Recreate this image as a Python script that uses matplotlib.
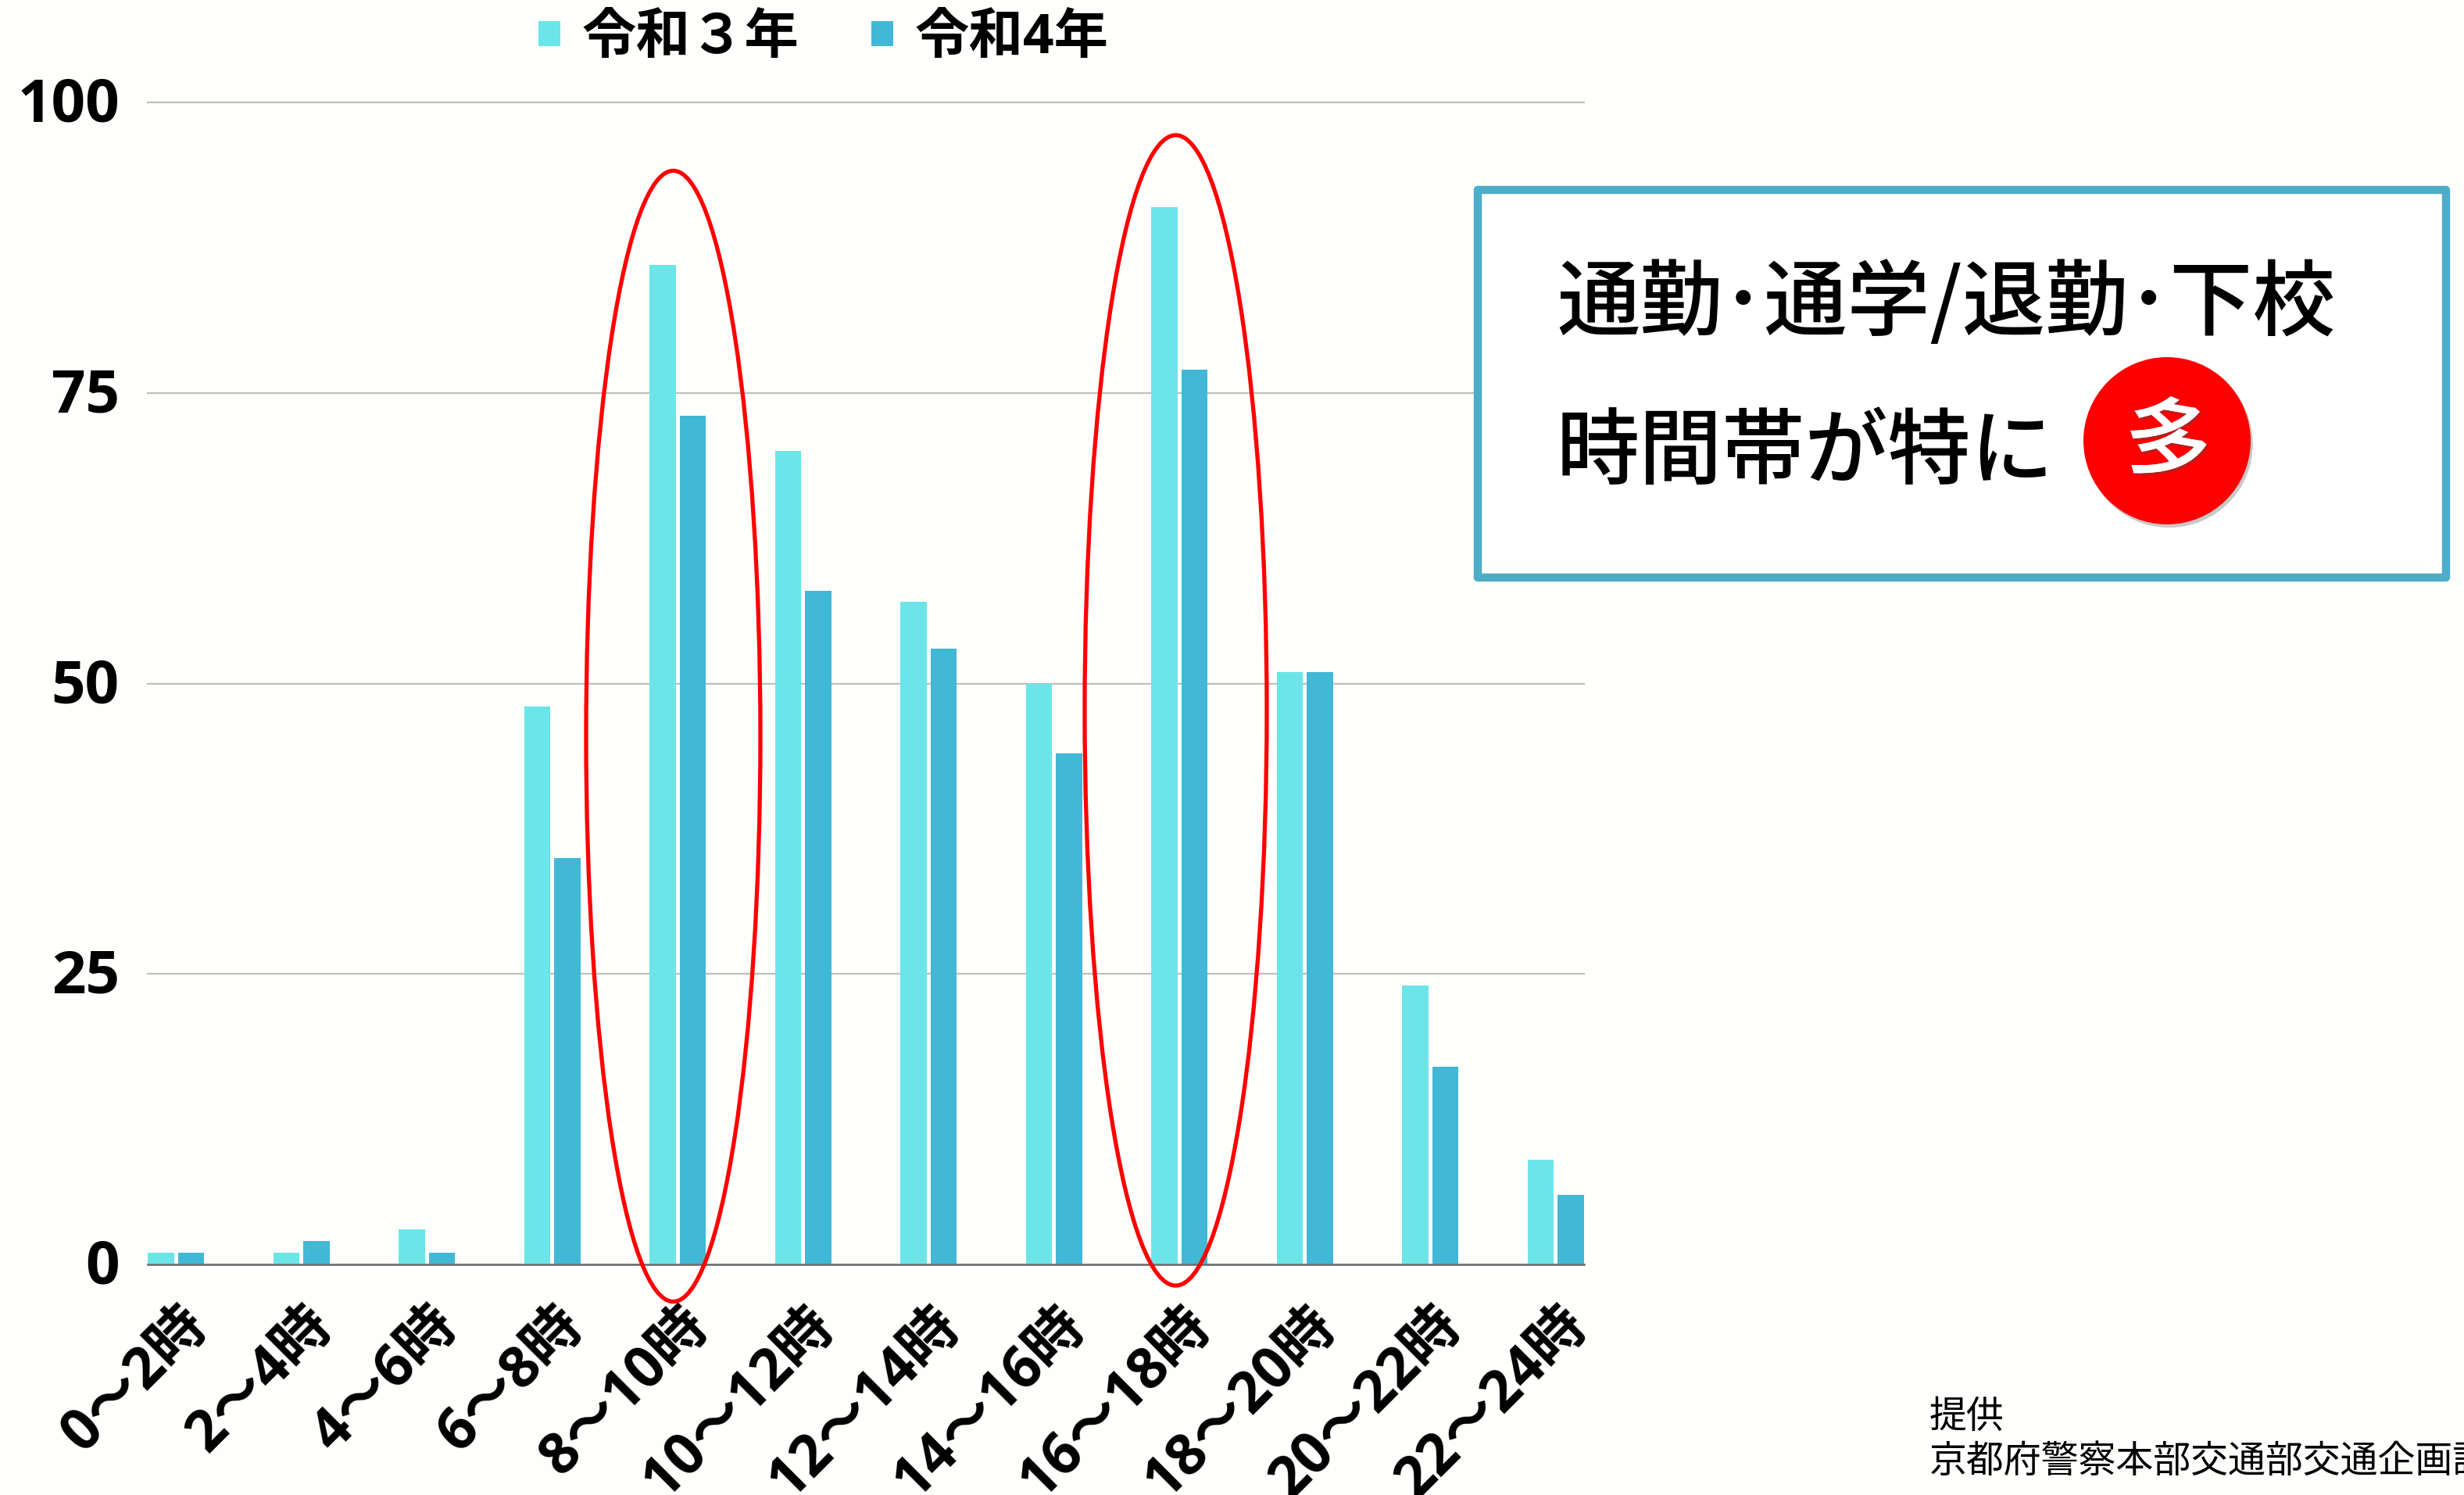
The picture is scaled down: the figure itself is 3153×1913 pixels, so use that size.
import numpy as np
import matplotlib
matplotlib.use('Agg')
import matplotlib.pyplot as plt
import matplotlib.patheffects as pe
from matplotlib.patches import Ellipse, Rectangle
from matplotlib.transforms import ScaledTranslation

plt.rcParams['font.family'] = ['Open Sans', 'Noto Sans CJK JP', 'DejaVu Sans']

# values
hours = ['0～2時', '2～4時', '4～6時', '6～8時', '8～10時', '10～12時',
         '12～14時', '14～16時', '16～18時', '18～20時', '20～22時', '22～24時']
r3 = [1, 1, 3, 48, 86, 70, 57, 50, 91, 51, 24, 9]
r4 = [1, 2, 1, 35, 73, 58, 53, 44, 77, 51, 17, 6]
yticks = [0, 25, 50, 75, 100]

W, H = 3153, 1913
bg = '#FEFEFC'
jp = ['Noto Sans CJK JP', 'DejaVu Sans']
fig = plt.figure(figsize=(W / 100, H / 100), dpi=100, facecolor=bg)

# axes rectangle in pixels
left, right, top, bottom = 189, 2027, 131, 1618
ax = fig.add_axes([left / W, 1 - bottom / H, (right - left) / W, (bottom - top) / H], facecolor=bg)

x = np.arange(len(hours))
bw = 0.21
ax.bar(x - 0.12, r3, bw, color='#6CE5E8', label='令和３年', zorder=3)
ax.bar(x + 0.12, r4, bw, color='#41B8D5', label='令和4年', zorder=3)
ax.set_xlim(-0.225, 11.225)
ax.set_ylim(0, 100)
ax.set_yticks(yticks)
ax.grid(axis='y', color='#BFBFBB', lw=1.6, zorder=0, clip_on=False)
for s in ['top', 'right', 'left']:
    ax.spines[s].set_visible(False)
ax.spines['bottom'].set_color('#6B6B6B')
ax.spines['bottom'].set_linewidth(1.8)
ax.spines['bottom'].set_zorder(4)
ax.tick_params(axis='both', length=0)
ax.tick_params(axis='y', pad=26)
ax.tick_params(axis='x', pad=30)
for t in ax.get_yticklabels():
    t.set_fontsize(55)
    t.set_fontweight('bold')
    t.set_transform(t.get_transform() + ScaledTranslation(0, 0.04, fig.dpi_scale_trans))
ax.set_xticks(x + 0.02)
ax.set_xticklabels(hours, rotation=45, ha='right', va='top', rotation_mode='anchor',
                   fontsize=52.5, fontweight='bold')

leg = ax.legend(loc='center', bbox_to_anchor=(1054 / W, 1 - 50 / H), bbox_transform=fig.transFigure,
                ncol=2, frameon=False, handlelength=0.4, handleheight=0.33,
                handletextpad=0.4, columnspacing=1.33, prop={'weight': 'bold', 'size': 50})

# overlay in pixel coordinates for the annotations
ov = fig.add_axes([0, 0, 1, 1], facecolor='none')
ov.set_xlim(0, W)
ov.set_ylim(H, 0)
ov.axis('off')

ov.add_patch(Ellipse((861.5, 942), 223, 1447, fc='none', ec='#FF0000', lw=3.8))
ov.add_patch(Ellipse((1504.5, 909), 233, 1472, fc='none', ec='#FF0000', lw=3.8))

ov.add_patch(Rectangle((1890.5, 242.5), 1239, 496.5, fc='white', ec='#4DADC6', lw=7.5, joinstyle='round'))
ov.text(1992, 391, '通勤･通学/退勤･下校', fontsize=76.4, fontweight='medium',
        family=jp, color='black', va='center', ha='left')
ov.text(1992, 581, '時間帯が特に', fontsize=76.4, fontweight='medium',
        family=jp, color='black', va='center', ha='left')

ov.add_patch(Ellipse((2773, 564), 214, 214, fc='#FF0000', ec='none',
                     path_effects=[pe.withSimplePatchShadow(offset=(2, -3), shadow_rgbFace='#888888', alpha=0.45)]))
ov.text(2773, 570, '多', fontsize=81, color='white', rotation=-10, ha='center', va='center',
        family=jp, fontweight='medium',
        path_effects=[pe.withSimplePatchShadow(offset=(2, -2), alpha=0.4), pe.Normal()])

ov.text(2469, 1813, '提供', fontsize=34.5, family=jp, va='center', ha='left')
ov.text(2469, 1870, '京都府警察本部交通部交通企画課', fontsize=34.5, family=jp, va='center', ha='left')

fig.savefig('out.png', dpi=100, facecolor=bg)
